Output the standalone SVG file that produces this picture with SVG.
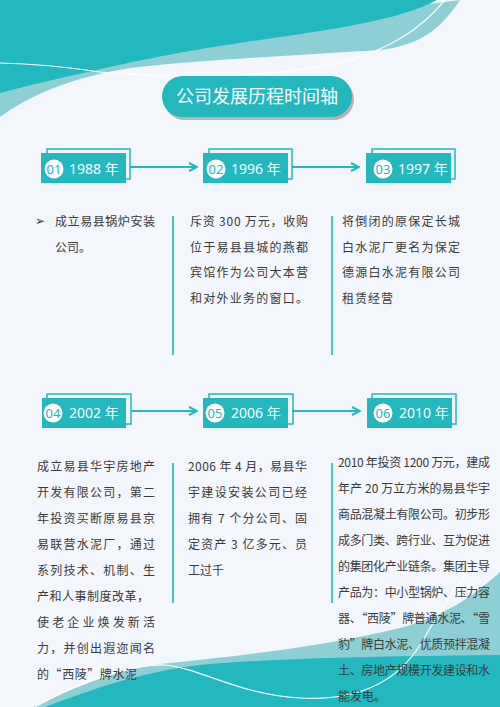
<svg xmlns="http://www.w3.org/2000/svg" width="500" height="707" viewBox="0 0 500 707">
<defs>
<style>
.bg{fill:#f3f6fa}
.dark{fill:#22b8be}
.light{fill:#8ecfd6}
.wline{fill:none;stroke:#ffffff;stroke-width:1.2}
.front{fill:#22b8be}
.back{fill:none;stroke:#22b8be;stroke-width:1.5}
.num{font-family:"Noto Sans","Noto Sans CJK SC",sans-serif;font-size:13px;fill:#22b8be;text-anchor:middle}
.year{font-family:"Noto Sans","Noto Sans CJK SC",sans-serif;font-size:14px;fill:#ffffff}
.conn{fill:none;stroke:#22b8be;stroke-width:2}
.sep{stroke:#4cc2c7;stroke-width:2}
.body{font-family:"Noto Sans CJK SC",sans-serif;font-size:12px;fill:#3a3a3a}
.title{font-family:"Noto Sans CJK SC",sans-serif;font-size:18px;fill:#ffffff;text-anchor:middle}
</style>
<marker id="arr" viewBox="0 0 10 10" refX="9" refY="5" markerWidth="10" markerHeight="10" markerUnits="userSpaceOnUse" orient="auto">
<path d="M1,1 L9,5 L1,9" fill="none" stroke="#22b8be" stroke-width="2"/>
</marker>
</defs>
<rect class="bg" x="0" y="0" width="500" height="707"/>
<!-- top waves -->
<path class="light" d="M0,60 L460,0 C440,30 420,45 380,50 C300,55 200,60 130,68 C70,78 30,95 0,117 Z"/>
<path class="dark" d="M0,0 L437,0 C400,20 330,30 260,40 C190,50 140,60 97,70 C60,78 30,85 0,93 Z"/>
<path class="wline" d="M0,63 C40,64 80,69 100,72 C170,79 280,78 350,60 C390,48 420,30 445,0"/>
<!-- bottom waves -->
<path class="light" d="M33,707 C80,685 120,668 170,663 C250,655 330,645 400,628 C450,615 480,590 500,572 L500,707 Z"/>
<path class="dark" d="M45,707 C90,690 140,672 200,665 C270,659 350,657 420,656 L500,655 L500,707 Z"/>
<path class="wline" d="M35,707 C80,682 125,664 165,665 C200,668 240,695 300,698 C355,701 395,685 420,645 C438,615 455,585 478,560"/>
<!-- title -->
<g id="title">
<rect x="164" y="79" width="190" height="41" rx="20.5" fill="#b9b4b4"/>
<rect x="162" y="76" width="190" height="41" rx="20.5" fill="#22b8be"/>
<text class="title" x="257" y="103">公司发展历程时间轴</text>
</g>
<!-- connectors -->
<g id="connectors">
<line class="conn" x1="130" y1="167" x2="197" y2="167" marker-end="url(#arr)"/>
<line class="conn" x1="292" y1="167" x2="359" y2="167" marker-end="url(#arr)"/>
<line class="conn" x1="131" y1="411" x2="197" y2="411" marker-end="url(#arr)"/>
<line class="conn" x1="292" y1="411" x2="360" y2="411" marker-end="url(#arr)"/>
<line class="sep" x1="173" y1="216" x2="173" y2="355"/>
<line class="sep" x1="332" y1="216" x2="332" y2="355"/>
<line class="sep" x1="173" y1="463" x2="173" y2="603"/>
<line class="sep" x1="332" y1="463" x2="332" y2="603"/>
</g>
<!-- node 1 -->
<g id="node-1988">
<rect class="back" x="47" y="149" width="83" height="30"/>
<rect class="front" x="41" y="153" width="85" height="30"/>
<circle cx="54" cy="169" r="9.5" fill="#ffffff"/>
<text class="num" x="54" y="173.5">01</text>
<text class="year" x="69" y="174">1988 年</text>
<text class="body" x="35" y="225" font-size="10">➢</text>
<text class="body" x="55" y="226" textLength="100" lengthAdjust="spacing">成立易县锅炉安装</text>
<text class="body" x="55" y="252">公司。</text>
</g>
<!-- node 2 -->
<g id="node-1996">
<rect class="back" x="209" y="149" width="83" height="30"/>
<rect class="front" x="203" y="153" width="85" height="30"/>
<circle cx="216" cy="169" r="9.5" fill="#ffffff"/>
<text class="num" x="216" y="173.5">02</text>
<text class="year" x="231" y="174">1996 年</text>
<text class="body" x="190" y="226" textLength="118" lengthAdjust="spacing">斥资 300 万元，收购</text>
<text class="body" x="190" y="252" textLength="118" lengthAdjust="spacing">位于易县县城的燕都</text>
<text class="body" x="190" y="277" textLength="118" lengthAdjust="spacing">宾馆作为公司大本营</text>
<text class="body" x="190" y="303" textLength="118" lengthAdjust="spacing">和对外业务的窗口。</text>
</g>
<!-- node 3 -->
<g id="node-1997">
<rect class="back" x="372" y="149" width="83" height="30"/>
<rect class="front" x="366" y="153" width="85" height="30"/>
<circle cx="383" cy="169" r="9.5" fill="#ffffff"/>
<text class="num" x="383" y="173.5">03</text>
<text class="year" x="398" y="174">1997 年</text>
<text class="body" x="342" y="226" textLength="118" lengthAdjust="spacing">将倒闭的原保定长城</text>
<text class="body" x="342" y="252" textLength="118" lengthAdjust="spacing">白水泥厂更名为保定</text>
<text class="body" x="342" y="277" textLength="118" lengthAdjust="spacing">德源白水泥有限公司</text>
<text class="body" x="342" y="303" letter-spacing="1">租赁经营</text>
</g>
<!-- node 4 -->
<g id="node-2002">
<rect class="back" x="47" y="394" width="84" height="30"/>
<rect class="front" x="42" y="398" width="84" height="30"/>
<circle cx="53" cy="413" r="9.5" fill="#ffffff"/>
<text class="num" x="53" y="417.5">04</text>
<text class="year" x="69" y="418" font-size="15">2002 年</text>
<text class="body" x="37" y="471" textLength="118" lengthAdjust="spacing">成立易县华宇房地产</text>
<text class="body" x="37" y="497" textLength="118" lengthAdjust="spacing">开发有限公司，第二</text>
<text class="body" x="37" y="523" textLength="118" lengthAdjust="spacing">年投资买断原易县京</text>
<text class="body" x="37" y="549" textLength="118" lengthAdjust="spacing">易联营水泥厂，通过</text>
<text class="body" x="37" y="575" textLength="118" lengthAdjust="spacing">系列技术、机制、生</text>
<text class="body" x="37" y="601" textLength="112" lengthAdjust="spacing">产和人事制度改革，</text>
<text class="body" x="37" y="627" textLength="118" lengthAdjust="spacing">使老企业焕发新活</text>
<text class="body" x="37" y="653" textLength="118" lengthAdjust="spacing">力，并创出遐迩闻名</text>
<text class="body" x="37" y="679" textLength="100" lengthAdjust="spacing">的“西陵”牌水泥</text>
</g>
<!-- node 5 -->
<g id="node-2006">
<rect class="back" x="209" y="394" width="84" height="30"/>
<rect class="front" x="203" y="398" width="85" height="30"/>
<circle cx="215" cy="413" r="9.5" fill="#ffffff"/>
<text class="num" x="215" y="417.5">05</text>
<text class="year" x="231" y="418" font-size="15">2006 年</text>
<text class="body" x="188" y="471" textLength="119" lengthAdjust="spacing">2006 年 4 月，易县华</text>
<text class="body" x="188" y="497" textLength="119" lengthAdjust="spacing">宇建设安装公司已经</text>
<text class="body" x="188" y="523" textLength="119" lengthAdjust="spacing">拥有 7 个分公司、固</text>
<text class="body" x="188" y="549" textLength="119" lengthAdjust="spacing">定资产 3 亿多元、员</text>
<text class="body" x="188" y="575">工过千</text>
</g>
<!-- node 6 -->
<g id="node-2010">
<rect class="back" x="372" y="394" width="84" height="30"/>
<rect class="front" x="367" y="398" width="85" height="30"/>
<circle cx="383" cy="413" r="9.5" fill="#ffffff"/>
<text class="num" x="383" y="417.5">06</text>
<text class="year" x="399" y="418" font-size="15">2010 年</text>
<text class="body" x="338" y="467" textLength="152" lengthAdjust="spacing">2010 年投资 1200 万元，建成</text>
<text class="body" x="338" y="493" textLength="152" lengthAdjust="spacing">年产 20 万立方米的易县华宇</text>
<text class="body" x="338" y="519" textLength="152" lengthAdjust="spacing">商品混凝土有限公司。初步形</text>
<text class="body" x="338" y="545" textLength="152" lengthAdjust="spacing">成多门类、跨行业、互为促进</text>
<text class="body" x="338" y="571" textLength="152" lengthAdjust="spacing">的集团化产业链条。集团主导</text>
<text class="body" x="338" y="597" textLength="152" lengthAdjust="spacing">产品为：中小型锅炉、压力容</text>
<text class="body" x="338" y="623" textLength="152" lengthAdjust="spacing">器、“西陵”牌普通水泥、“雪</text>
<text class="body" x="338" y="649" textLength="152" lengthAdjust="spacing">豹”牌白水泥、优质预拌混凝</text>
<text class="body" x="338" y="675" textLength="152" lengthAdjust="spacing">土、房地产规模开发建设和水</text>
<text class="body" x="338" y="701">能发电。</text>
</g>
</svg>
